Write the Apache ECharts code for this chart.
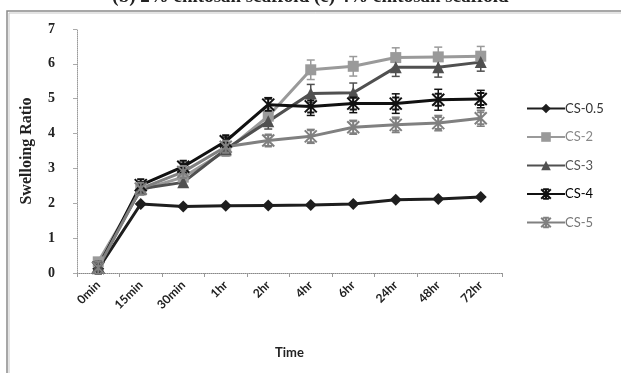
<!DOCTYPE html>
<html><head><meta charset="utf-8">
<script src="https://cdn.jsdelivr.net/npm/echarts@6/dist/echarts.min.js"></script>
<style>html,body{margin:0;padding:0;background:#fff}#c{width:621px;height:373px}</style>
</head><body><div id="c"></div>
<script>
var categories = ['0min','15min','30min','1hr','2hr','4hr','6hr','24hr','48hr','72hr'];
var yTicks = [0,1,2,3,4,5,6,7];
var cs05 = [0.12,1.98,1.91,1.93,1.94,1.95,1.98,2.10,2.12,2.18];
var cs2  = [0.32,2.38,2.75,3.50,4.50,5.83,5.93,6.18,6.20,6.22];
var cs3  = [0.20,2.42,2.60,3.55,4.35,5.15,5.17,5.90,5.90,6.05];
var cs4  = [0.15,2.52,3.05,3.78,4.83,4.78,4.86,4.86,4.97,4.99];
var cs5  = [0.15,2.42,2.90,3.62,3.80,3.92,4.18,4.25,4.30,4.44];
var err2 = [0.10,0.12,0.12,0.15,0.22,0.28,0.28,0.28,0.28,0.28];
var err3 = [0.10,0.12,0.12,0.15,0.22,0.26,0.28,0.26,0.28,0.26];
var err4 = [0.08,0.10,0.10,0.12,0.20,0.26,0.26,0.28,0.30,0.25];
var err5 = [0.08,0.10,0.10,0.12,0.15,0.20,0.20,0.22,0.22,0.23];
var names = ['CS-0.5','CS-2','CS-3','CS-4','CS-5'];
var colors = ['#1e1e1e','#9a9a9a','#505050','#111111','#808080'];
var legendTextColors = ['#333','#888','#555','#000','#777'];

var starPath = 'path://M0,0L10,10M10,0L0,10M5,0L5,10M2,0L8,0M2,10L8,10';

function errSeries(vals, errs, color){
  return {
    type:'custom', silent:true, z:1,
    data: vals.map(function(v,i){return [i, v, errs[i]];}),
    renderItem: function(params, api){
      var x = api.value(0), v = api.value(1), e = api.value(2);
      var top = api.coord([x, v+e]), bot = api.coord([x, v-e]);
      var st = {stroke: color, lineWidth: 1.5};
      return {type:'group', children:[
        {type:'line', shape:{x1:top[0],y1:top[1],x2:bot[0],y2:bot[1]}, style:st},
        {type:'line', shape:{x1:top[0]-4,y1:top[1],x2:top[0]+4,y2:top[1]}, style:st},
        {type:'line', shape:{x1:bot[0]-4,y1:bot[1],x2:bot[0]+4,y2:bot[1]}, style:st}
      ]};
    }
  };
}

function lineSeries(name, data, color, symbol, size, extra){
  return {
    name:name, type:'line', data:data, symbol:symbol, symbolSize:size,
    showAllSymbol:true, z:3,
    lineStyle:{color:color, width:3},
    itemStyle:{color:color, borderColor:color, borderWidth: extra ? 2 : 0, opacity:1}
  };
}

var chart = echarts.init(document.getElementById('c'));
chart.setOption({
  animation:false,
  backgroundColor:'#fff',
  graphic:[
    {type:'rect', shape:{x:7,y:11,width:620,height:370}, style:{fill:'none', stroke:'#8a8a8a', lineWidth:1.5}},
    {type:'rect', shape:{x:9,y:13,width:620,height:370}, style:{fill:'none', stroke:'#c8c8c8', lineWidth:1}},
    {type:'text', left:'center', top:-12, style:{text:'(b) 2% chitosan scaffold (c) 4% chitosan scaffold', font:'bold 19px "Liberation Serif"', fill:'#222'}}
  ],
  grid:{left:77, right:119, top:29, bottom:100},
  legend:{
    orient:'vertical', left:521, top:97, itemWidth:38, itemHeight:12, itemGap:15.5,
    data:names.map(function(n,i){return {name:n, textStyle:{color:legendTextColors[i]}};}),
    textStyle:{fontFamily:'Lato', fontSize:13, padding:[0,0,0,-5]}
  },
  xAxis:{
    type:'category', data:categories, boundaryGap:true,
    name:'Time', nameLocation:'middle', nameGap:73,
    nameTextStyle:{fontFamily:'Lato', fontWeight:'bold', fontSize:13, color:'#222'},
    axisLine:{lineStyle:{color:'#888', type:'dotted', width:1}},
    axisTick:{show:true, alignWithLabel:false, length:4, lineStyle:{color:'#999'}},
    axisLabel:{rotate:45, margin:10, fontFamily:'Lato', fontWeight:'bold', fontSize:12, color:'#222'}
  },
  yAxis:{
    type:'value', min:0, max:7, interval:1,
    name:'Swelloing Ratio', nameLocation:'middle', nameGap:42, nameRotate:90,
    nameTextStyle:{fontFamily:'Liberation Serif', fontWeight:'bold', fontSize:16, color:'#222'},
    axisLine:{show:true, lineStyle:{color:'#999', type:'dotted', width:1}},
    axisTick:{show:true, length:4, lineStyle:{color:'#aaa'}},
    splitLine:{show:false},
    axisLabel:{margin:22, fontFamily:'Liberation Serif', fontWeight:'bold', fontSize:14, color:'#222',
      formatter:function(v){return yTicks.indexOf(v)>=0 ? String(v) : '';}}
  },
  series:[
    errSeries(cs2, err2, colors[1]),
    errSeries(cs3, err3, colors[2]),
    errSeries(cs4, err4, colors[3]),
    errSeries(cs5, err5, colors[4]),
    lineSeries(names[0], cs05, colors[0], 'diamond', 12),
    lineSeries(names[1], cs2, colors[1], 'rect', 11),
    lineSeries(names[2], cs3, colors[2], 'triangle', 12),
    lineSeries(names[3], cs4, colors[3], starPath, 12, true),
    lineSeries(names[4], cs5, colors[4], starPath, 12, true)
  ]
});
</script>
</body></html>
